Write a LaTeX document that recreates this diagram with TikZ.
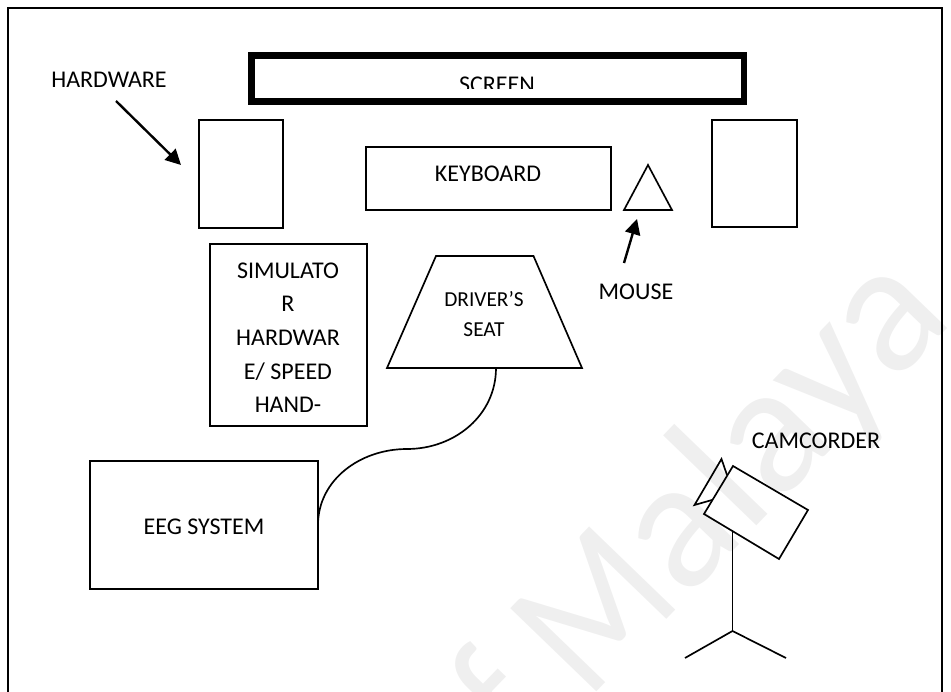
\documentclass[tikz,border=0pt]{standalone}
\usepackage{fontspec}
\setmainfont{Carlito}
\newfontfamily\wmfont[FakeStretch=0.88]{Carlito}
\usetikzlibrary{arrows.meta,fit}
\definecolor{wmark}{HTML}{EFEFEF}
\tikzset{
  ln/.style={line width=1.25pt,line join=miter},
  boxn/.style={draw,line width=1.25pt,inner sep=0pt,outer sep=0pt},
  big/.style={font=\fontsize{18}{18}\selectfont,anchor=base,inner sep=0pt},
  small/.style={font=\fontsize{16}{16}\selectfont,anchor=base,inner sep=0pt},
  pointer/.style={line width=1.8pt,-{Triangle[length=11.5pt,width=11.5pt]}},
  wm/.style={font=\fontsize{140}{140}\selectfont,text=wmark,anchor=base east,rotate=46,inner sep=0pt}
}
\begin{document}
\begin{tikzpicture}[x=0.75pt,y=-0.75pt]
\useasboundingbox (0,0) rectangle (951,692);
\clip (0,0) rectangle (951,692);
\node[wm] (watermark) at (956,320) {{\wmfont\fontsize{140}{140}\selectfont of M}alaya};
% outer frame
\coordinate (fa) at (8,692);
\coordinate (fb) at (8,8);
\coordinate (fc) at (942,8);
\coordinate (fd) at (942,692);
\draw[line width=1.3pt] (fa) -- (fb) -- (fc) -- (fd);
% screen
\node[draw,line width=5.1pt,inner sep=0pt,outer sep=0pt,fit={(251.5,55.5)(744,101.5)}] (screen) {};
\begin{scope}
\clip (300,60) rectangle (700,89);
\node[big] (screentext) at (497,92.5) {SCREEN};
\end{scope}
% boxes
\node[boxn,fit={(199,120)(283,228)}] (hwleft) {};
\node[boxn,fit={(712,120)(797,227)}] (hwright) {};
\node[boxn,fit={(366,147)(611,210)}] (keyboard) {};
\node[boxn,fit={(210,244)(367,426)}] (simulator) {};
\node[boxn,fit={(90,461)(318,589)}] (eeg) {};
\node[big] (keyboardtext) at (488,181) {KEYBOARD};
\node[big] (eegtext) at (204,534) {EEG SYSTEM};
\node[big] (s1) at (288,278) {SIMULATO};
\node[big] (s2) at (288,311) {R};
\node[big] (s3) at (288,345) {HARDWAR};
\node[big] (s4) at (288,379) {E/ SPEED};
\node[big] (s5) at (288,412) {HAND-};
% mouse
\coordinate (ma) at (648,165);
\coordinate (mb) at (624,210);
\coordinate (mc) at (672,210);
\draw[ln] (ma) -- (mb) -- (mc) -- cycle;
\node[big] (mousetext) at (636,299) {MOUSE};
\coordinate (mfrom) at (624,263);
\coordinate (mto) at (637,219);
\draw[pointer] (mfrom) -- (mto);
% hardware label
\node[big] (hwtext) at (109,88) {HARDWARE};
\coordinate (hfrom) at (116,101);
\coordinate (hto) at (181,165);
\draw[pointer] (hfrom) -- (hto);
% seat
\coordinate (ta) at (436,256);
\coordinate (tb) at (533.5,256);
\coordinate (tc) at (582,368);
\coordinate (td) at (387,368);
\coordinate (seatb) at (496,368);
\draw[ln] (ta) -- (tb) -- (tc) -- (td) -- cycle;
\node[small] (seat1) at (484,306) {DRIVER’S};
\node[small] (seat2) at (484,336) {SEAT};
% cable
\coordinate (cmid) at (407,449);
\draw[ln] (seatb) .. controls (496,415) and (455,449) .. (cmid)
  .. controls (360,449) and (318,480) .. (eeg.east);
% camcorder
\coordinate (c1) at (733,466);
\coordinate (c2) at (808,510);
\coordinate (c3) at (779,559);
\coordinate (c4) at (704,514);
\draw[ln] (c1) -- (c2) -- (c3) -- (c4) -- cycle;
\coordinate (l1) at (727,475);
\coordinate (l2) at (721.5,459);
\coordinate (l3) at (694.5,505);
\coordinate (l4) at (712,500);
\draw[ln] (l1) -- (l2) -- (l3) -- (l4);
\coordinate (st) at (732.5,530);
\coordinate (sb) at (732.5,631);
\coordinate (sl) at (685,658);
\coordinate (sr) at (786,658);
\draw[ln] (st) -- (sb);
\draw[ln] (sl) -- (sb) -- (sr);
\node[big] (camtext) at (816,448) {CAMCORDER};
\end{tikzpicture}
\end{document}
